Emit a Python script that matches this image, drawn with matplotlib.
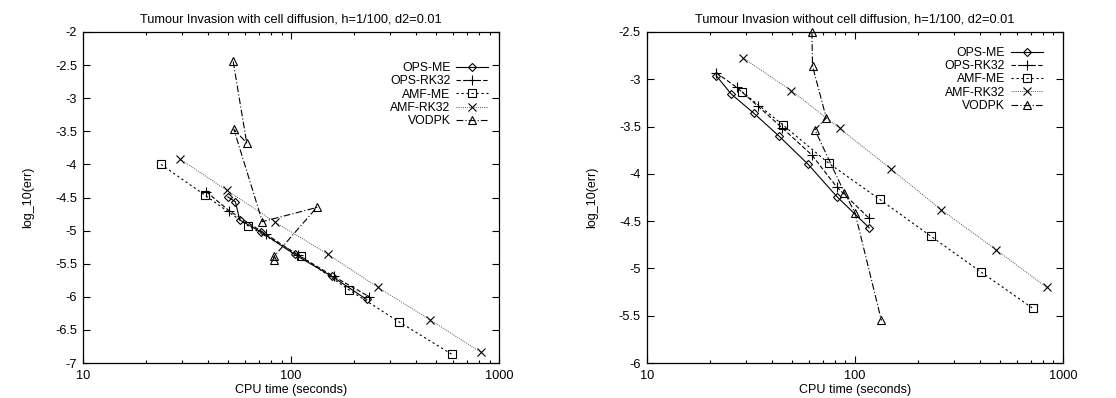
import matplotlib
matplotlib.use("Agg")
import matplotlib.pyplot as plt
from matplotlib.ticker import FuncFormatter, FormatStrFormatter, MultipleLocator, LogLocator

plt.rcParams['font.family'] = ['Liberation Sans', 'DejaVu Sans']

# --- with cell diffusion (left) ---
ops_me_t1 = [49.7, 54.0, 56.7, 71.7, 104, 157, 231]
ops_me_e1 = [-4.49, -4.565, -4.84, -5.02, -5.36, -5.69, -6.04]
ops_rk_t1 = [39.0, 50.4, 75.5, 108, 160, 238]
ops_rk_e1 = [-4.41, -4.70, -5.05, -5.37, -5.69, -6.00]
amf_me_t1 = [23.7, 38.4, 62.3, 112, 189, 331, 594]
amf_me_e1 = [-4.00, -4.46, -4.93, -5.39, -5.89, -6.38, -6.87]
amf_rk_t1 = [29.3, 49.0, 84.1, 150, 261, 467, 819]
amf_rk_e1 = [-3.92, -4.39, -4.875, -5.355, -5.855, -6.35, -6.84]
vodpk_t1 = [52.7, 61.2, 53.1, 72.8, 133, 82.8, 82.5]
vodpk_e1 = [-2.445, -3.675, -3.47, -4.865, -4.65, -5.39, -5.44]

# --- without cell diffusion (right) ---
ops_me_t2 = [21.5, 25.4, 32.7, 43.1, 59.6, 81.8, 117]
ops_me_e2 = [-2.96, -3.155, -3.36, -3.60, -3.90, -4.24, -4.57]
ops_rk_t2 = [21.5, 27.0, 34.0, 44.5, 62.0, 81.8, 117]
ops_rk_e2 = [-2.93, -3.085, -3.28, -3.51, -3.80, -4.14, -4.47]
amf_me_t2 = [28.6, 44.9, 74.7, 131.6, 231, 402, 714]
amf_me_e2 = [-3.13, -3.48, -3.887, -4.27, -4.657, -5.035, -5.42]
amf_rk_t2 = [29.1, 49.5, 84.3, 149, 260, 475, 834]
amf_rk_e2 = [-2.778, -3.12, -3.518, -3.95, -4.38, -4.80, -5.20]
vodpk_t2 = [62.1, 62.5, 72.8, 64.2, 89.0, 100, 134]
vodpk_e2 = [-2.50, -2.86, -3.41, -3.535, -4.20, -4.41, -5.55]

labels = ['OPS-ME', 'OPS-RK32', 'AMF-ME', 'AMF-RK32', 'VODPK']
titles = ['Tumour Invasion with cell diffusion, h=1/100, d2=0.01',
          'Tumour Invasion without cell diffusion, h=1/100, d2=0.01']

# gnuplot-ish line types
styles = [
    dict(marker='D', ms=4, ls='-', color='black', lw=0.8),
    dict(marker='+', ms=7, ls=(0, (4, 2)), color='black', lw=0.8),
    dict(marker='s', ms=6, ls=(0, (2, 2.5)), color='black', lw=0.8),
    dict(marker='x', ms=6, ls=(0, (1, 1.2)), color='#555555', lw=0.7),
    dict(marker='^', ms=5.5, ls=(0, (6, 2, 1, 2)), color='black', lw=0.8),
]

fig = plt.figure(figsize=(11.16, 3.98), dpi=100)
ax1 = fig.add_axes([0.0744, 0.0879, 0.3728, 0.8317])
ax2 = fig.add_axes([0.5797, 0.0879, 0.3728, 0.8317])

panels = [
    (ax1, [(ops_me_t1, ops_me_e1), (ops_rk_t1, ops_rk_e1), (amf_me_t1, amf_me_e1),
           (amf_rk_t1, amf_rk_e1), (vodpk_t1, vodpk_e1)], (-7, -2), (0.974, 0.909)),
    (ax2, [(ops_me_t2, ops_me_e2), (ops_rk_t2, ops_rk_e2), (amf_me_t2, amf_me_e2),
           (amf_rk_t2, amf_rk_e2), (vodpk_t2, vodpk_e2)], (-6, -2.5), (0.952, 0.955)),
]

for i, (ax, series, ylim, leg_pos) in enumerate(panels):
    for (t, e), lab, st in zip(series, labels, styles):
        ax.plot(t, e, label=lab, lw=st['lw'], mfc='none', mew=0.8, mec='black',
                marker=st['marker'], ms=st['ms'], ls=st['ls'], color=st['color'],
                clip_on=False)
    ax.set_xscale('log')
    ax.set_xlim(10, 1000)
    ax.set_ylim(*ylim)
    ax.yaxis.set_major_locator(MultipleLocator(0.5))
    ax.yaxis.set_major_formatter(FormatStrFormatter('%g'))
    ax.xaxis.set_major_locator(LogLocator(base=10))
    ax.xaxis.set_minor_locator(LogLocator(base=10, subs=range(2, 10)))
    ax.xaxis.set_major_formatter(FuncFormatter(lambda v, p: '%g' % v))
    ax.xaxis.set_minor_formatter(FuncFormatter(lambda v, p: ''))
    ax.tick_params(which='both', direction='in', top=True, right=True,
                   labelsize=9.2, width=0.8)
    ax.tick_params(which='major', length=5)
    ax.tick_params(which='minor', length=2.5)
    ax.tick_params(axis='x', pad=5)
    ax.tick_params(axis='y', pad=4.3)
    for sp in ax.spines.values():
        sp.set_linewidth(0.9)
    ax.set_title(titles[i], fontsize=9.2, pad=7)
    ax.set_xlabel('CPU time (seconds)', fontsize=9)
    ax.set_ylabel('log_10(err)', fontsize=9)
    ax.xaxis.set_label_coords(0.5, -0.063)
    ax.yaxis.set_label_coords(-0.118, 0.5)
    ax.legend(loc='upper right', bbox_to_anchor=leg_pos, frameon=False,
              markerfirst=False, numpoints=1, fontsize=8.8, handlelength=2.6,
              handletextpad=0.5, labelspacing=0.1, borderpad=0, borderaxespad=0)

fig.savefig('out.png', dpi=100)
